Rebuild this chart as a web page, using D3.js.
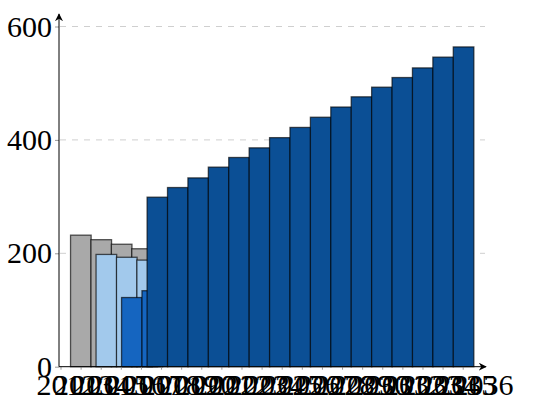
<!DOCTYPE html>
<html>
<head>
<meta charset="utf-8">
<script src="https://cdn.jsdelivr.net/npm/d3@7"></script>
<style>
  body { margin: 0; background: #fff; }
  svg { display: block; }
  svg text { font-family: "Liberation Serif", Tinos, "Times New Roman", Times, serif !important; }
</style>
</head>
<body>
<div id="chart"></div>
<script>
// Data
var grayYears = [2012, 2013, 2014, 2015];
var grayValues = [232, 224, 216, 208];

var lightYears = [2016, 2017, 2018];
var lightValues = [198, 193, 188];

var midYears = [2019, 2020];
var midValues = [122, 134];

var darkYears = [2021, 2022, 2023, 2024, 2025, 2026, 2027, 2028,
                 2029, 2030, 2031, 2032, 2033, 2034, 2035, 2036];
var darkValues = [299, 316, 333, 352, 369, 386, 404, 422,
                  440, 458, 476, 493, 510, 527, 546, 564];

var yTickValues = [0, 200, 400, 600];
var yearLabels = d3.range(2012, 2037);

var svgWidth = 540;
var svgHeight = 400;

var svg = d3.select("#chart")
  .append("svg")
  .attr("width", svgWidth)
  .attr("height", svgHeight);

// scales
var x = d3.scaleLinear()
  .domain([-1.07, 19.8])
  .range([59, 485]);

var y = d3.scaleLinear()
  .domain([0, 600])
  .range([366.7, 26.5]);

// each series is shifted a bit more than a slot after the previous one
var series = [
  { years: grayYears, values: grayValues, start: 0, fill: "#a9a9a9" },
  { years: lightYears, values: lightValues, start: 1.25, fill: "#a2c9ec" },
  { years: midYears, values: midValues, start: 2.5, fill: "#1565c0" },
  { years: darkYears, values: darkValues, start: 3.75, fill: "#0b4f95" }
];

var barWidth = 20.6;

// grid lines
svg.append("g")
  .selectAll("line")
  .data(yTickValues.filter(d => d > 0))
  .enter()
  .append("line")
  .attr("x1", 60)
  .attr("x2", 485)
  .attr("y1", d => y(d))
  .attr("y2", d => y(d))
  .attr("stroke", "#cfcfcf")
  .attr("stroke-width", 1)
  .attr("stroke-dasharray", "6,6");

// bars
series.forEach(function(s) {
  svg.append("g")
    .selectAll("rect")
    .data(s.values)
    .enter()
    .append("rect")
    .attr("x", (d, i) => x(s.start + i) - barWidth / 2)
    .attr("y", d => y(d))
    .attr("width", barWidth)
    .attr("height", d => y(0) - y(d))
    .attr("fill", s.fill)
    .attr("stroke", "rgba(0,0,0,0.65)")
    .attr("stroke-width", 1.3);
});

// x tick marks
var tickScale = d3.scaleLinear()
  .domain([0, 20])
  .range([60.5, 462.7]);

svg.append("g")
  .attr("transform", `translate(0, ${y(0)})`)
  .call(d3.axisBottom(tickScale).ticks(20).tickSize(3).tickFormat(""))
  .call(g => g.select(".domain").remove())
  .call(g => g.selectAll(".tick line").attr("stroke", "#999"));

// year labels (they pile on top of each other in the original)
var yearScale = d3.scalePoint()
  .domain(yearLabels)
  .range([66, 483]);

svg.append("g")
  .attr("transform", `translate(0, ${y(0)})`)
  .call(d3.axisBottom(yearScale).tickSize(0).tickPadding(0))
  .call(g => g.select(".domain").remove())
  .call(g => g.selectAll(".tick text")
    .style("font-size", "30px")
    .attr("dy", null)
    .attr("y", 28.5));

// y axis
svg.append("g")
  .attr("transform", "translate(59, 0)")
  .call(d3.axisLeft(y).tickValues(yTickValues).tickSize(4).tickPadding(3))
  .call(g => g.select(".domain").remove())
  .call(g => g.selectAll(".tick line").attr("stroke", "#999"))
  .call(g => g.selectAll(".tick text")
    .style("font-size", "30px"));

// axis lines with arrows
var defs = svg.append("defs");
defs.append("marker")
  .attr("id", "arrow")
  .attr("viewBox", "0 0 10 10")
  .attr("refX", 9)
  .attr("refY", 5)
  .attr("markerWidth", 8)
  .attr("markerHeight", 8)
  .attr("markerUnits", "userSpaceOnUse")
  .attr("orient", "auto")
  .append("path")
  .attr("d", "M0,0 L10,5 L0,10 L3,5 Z")
  .attr("fill", "#000");

svg.append("line")
  .attr("x1", 59).attr("x2", 486)
  .attr("y1", y(0)).attr("y2", y(0))
  .attr("stroke", "#000")
  .attr("stroke-width", 1)
  .attr("marker-end", "url(#arrow)");

svg.append("line")
  .attr("x1", 59).attr("x2", 59)
  .attr("y1", y(0)).attr("y2", 14)
  .attr("stroke", "#000")
  .attr("stroke-width", 1)
  .attr("marker-end", "url(#arrow)");
</script>
</body>
</html>
